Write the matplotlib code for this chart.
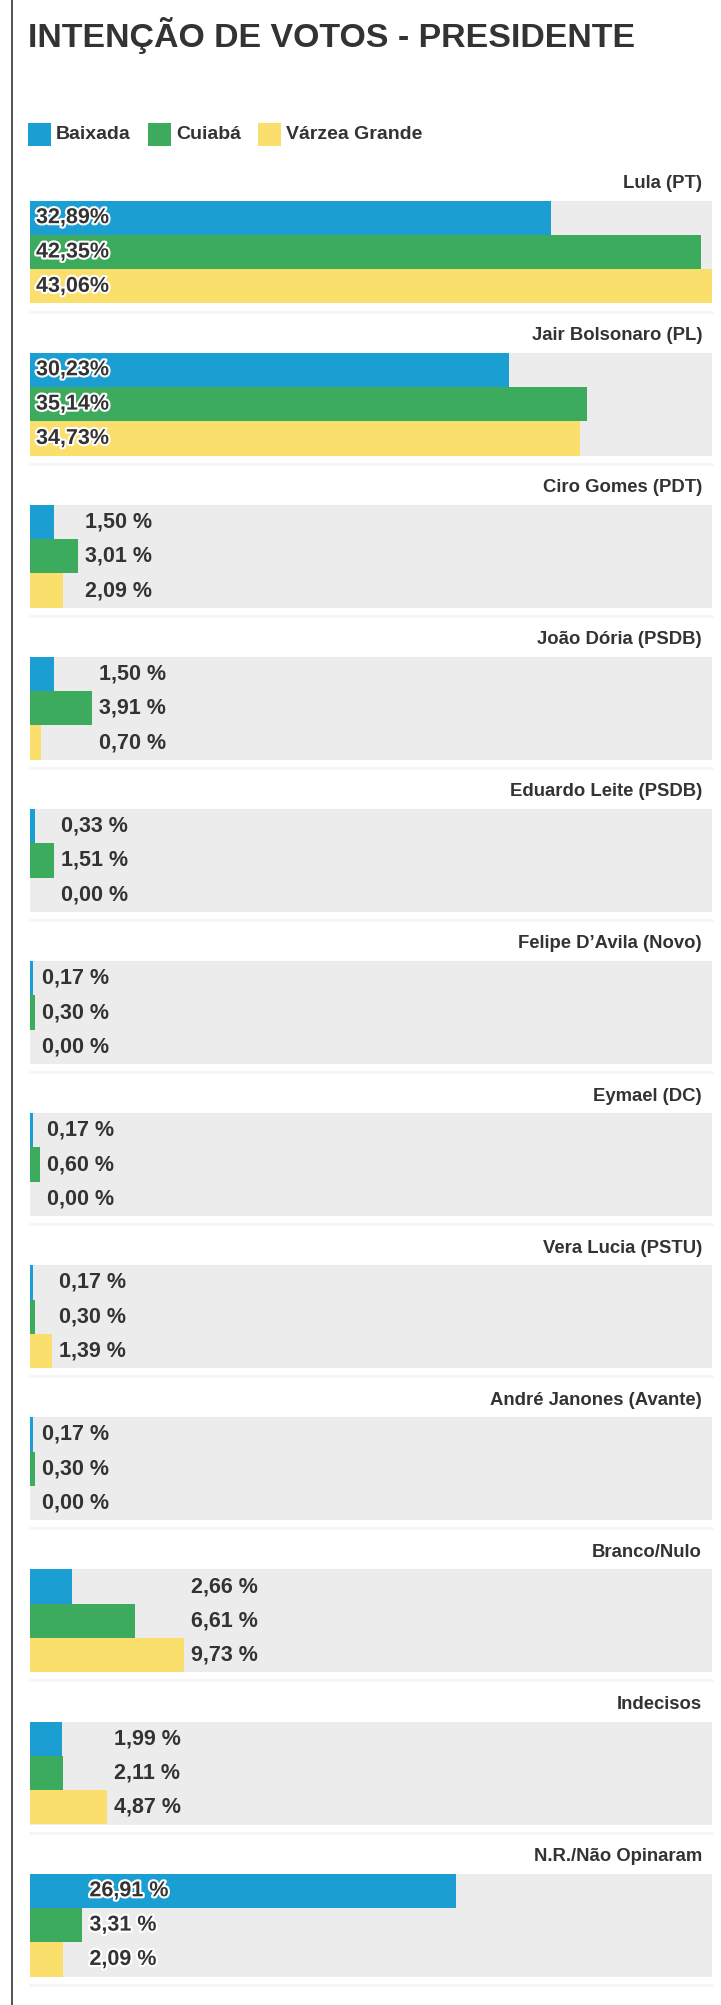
import matplotlib
matplotlib.use("Agg")
import matplotlib.pyplot as plt
from matplotlib import font_manager
from matplotlib import patheffects as pe
from matplotlib.lines import Line2D
from matplotlib.patches import Rectangle

# ---------------- data ----------------
title = "INTENÇÃO DE VOTOS - PRESIDENTE"
series = ["Baixada", "Cuiabá", "Várzea Grande"]
candidates = [
    "Lula (PT)", "Jair Bolsonaro (PL)", "Ciro Gomes (PDT)", "João Dória (PSDB)",
    "Eduardo Leite (PSDB)", "Felipe D’Avila (Novo)", "Eymael (DC)",
    "Vera Lucia (PSTU)", "André Janones (Avante)", "Branco/Nulo",
    "Indecisos", "N.R./Não Opinaram",
]
baixada = [32.89, 30.23, 1.50, 1.50, 0.33, 0.17, 0.17, 0.17, 0.17, 2.66, 1.99, 26.91]
cuiaba = [42.35, 35.14, 3.01, 3.91, 1.51, 0.30, 0.60, 0.30, 0.30, 6.61, 2.11, 3.31]
varzea = [43.06, 34.73, 2.09, 0.70, 0.00, 0.00, 0.00, 1.39, 0.00, 9.73, 4.87, 2.09]

# ---------------- style ----------------
names = {f.name for f in font_manager.fontManager.ttflist}
FONT = "Liberation Sans" if "Liberation Sans" in names else "DejaVu Sans"
plt.rcParams["font.family"] = [FONT, "DejaVu Sans"]

colors = ["#1b9fd3", "#3dab5e", "#fbdf6c"]
panel_bg = "#ececec"
txt = "#333333"

W, H = 721, 2005
fig = plt.figure(figsize=(W / 100, H / 100), dpi=100)
fig.patch.set_facecolor("white")

def fx(px):
    return px / W

def fy(py):
    return 1 - py / H

# left border
fig.add_artist(Line2D([fx(11.5), fx(11.5)], [0, 1], color="#444444", lw=1.3))

# title
fig.text(fx(28), fy(35), title, fontsize=24.4, fontweight="bold", color=txt,
         ha="left", va="center")

# legend
leg_y = 134.5
sq_x = [28, 148, 258]
sq = 23
for x, c, name in zip(sq_x, colors, series):
    fig.add_artist(Rectangle((fx(x), fy(leg_y + sq / 2)), sq / W, sq / H,
                             transform=fig.transFigure, facecolor=c, edgecolor="none"))
    fig.text(fx(x + sq + 5), fy(leg_y), name, fontsize=14, fontweight="bold",
             color=txt, ha="left", va="center")

# panels
left, right = 30, 712
top0, pitch, ph = 200.5, 152.1, 103
xmax = max(baixada + cuiaba + varzea)

for g, cand in enumerate(candidates):
    vals = [baixada[g], cuiaba[g], varzea[g]]
    top = top0 + g * pitch
    ax = fig.add_axes([fx(left), fy(top + ph), (right - left) / W, ph / H])
    ax.set_facecolor(panel_bg)
    ax.barh(range(3), vals, height=1.0, color=colors, edgecolor="none")
    ax.set_xlim(0, xmax)
    ax.set_ylim(2.5, -0.5)
    ax.set_xticks([])
    ax.set_yticks([])
    for s in ax.spines.values():
        s.set_visible(False)

    small = [v for v in vals if v < 20]
    big_group = len(small) == 0
    halo = any(v >= 20 for v in vals)
    if big_group:
        lx, off = 0, 6
    else:
        lx, off = max(small), 7
    for i, v in enumerate(vals):
        s = f"{v:.2f}".replace(".", ",") + ("%" if big_group else " %")
        t = ax.annotate(s, xy=(lx, i), xytext=(off, 0), textcoords="offset pixels",
                        ha="left", va="center", fontsize=15.5, fontweight="bold",
                        color=txt)
        if halo:
            t.set_path_effects([pe.withStroke(linewidth=3, foreground="white")])

    # candidate label
    fig.text(fx(702), fy(top - 17), cand, fontsize=13.3, fontweight="bold",
             color=txt, ha="right", va="center")
    # faint separator
    fig.add_artist(Line2D([fx(left), fx(right)], [fy(top + ph + 8)] * 2,
                          color="#f5f5f5", lw=2))

fig.savefig("out.png", dpi=100, facecolor="white")
